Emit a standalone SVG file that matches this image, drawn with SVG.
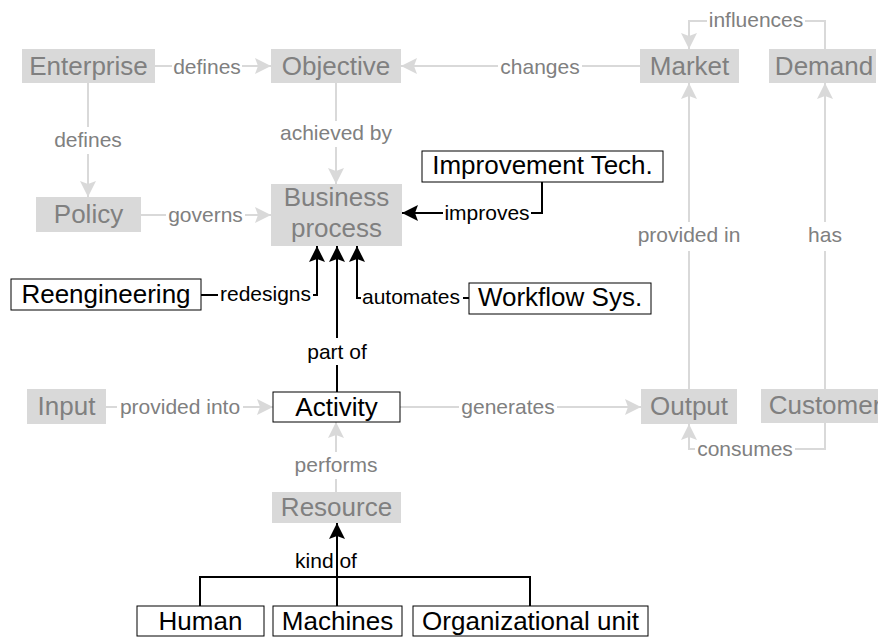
<svg xmlns="http://www.w3.org/2000/svg" width="878" height="637" viewBox="0 0 878 637">
<style>
text{font-family:"Liberation Sans",Arial,Helvetica,sans-serif}
.gn rect{fill:#d9d9d9}
.gn text{fill:#808080;font-size:26px;text-anchor:middle}
.bn rect{fill:#fff;stroke:#000;stroke-width:1}
.bn text{fill:#000;font-size:26px;text-anchor:middle}
.ge{fill:none;stroke:#d9d9d9;stroke-width:2;marker-end:url(#ga)}
.be{fill:none;stroke:#000;stroke-width:2}
.bea{marker-end:url(#ba)}
.gl{fill:#808080;font-size:21px;text-anchor:middle}
.bl{fill:#000;font-size:21px;text-anchor:middle}
</style>
<defs>
<marker id="ga" markerUnits="userSpaceOnUse" markerWidth="16" markerHeight="16" viewBox="0 0 16 16" refX="16" refY="8" orient="auto"><path d="M0,0 L16,8 L0,16 L3,8 Z" fill="#d9d9d9"/></marker>
<marker id="ba" markerUnits="userSpaceOnUse" markerWidth="16" markerHeight="16" viewBox="0 0 16 16" refX="16" refY="8" orient="auto"><path d="M0,0 L16,8 L0,16 L3,8 Z" fill="#000"/></marker>
</defs>

<g id="connectors">
<path class="ge" d="M155,66 H172 M242,66 H271"/>
<text class="gl" x="207" y="74">defines</text>
<path class="ge" d="M640,66 H582 M498,66 H401"/>
<text class="gl" x="540" y="74">changes</text>
<path class="ge" d="M88,83 V127 M88,154 V197"/>
<text class="gl" x="88" y="147">defines</text>
<path class="ge" d="M336,83 V121 M336,147 V184"/>
<text class="gl" x="336" y="140">achieved by</text>
<path class="ge" d="M141,215 H166 M245,215 H271"/>
<text class="gl" x="205.5" y="222">governs</text>
<path class="ge" d="M106,407 H117 M243,407 H273"/>
<text class="gl" x="180" y="414">provided into</text>
<path class="ge" d="M400,407 H459 M557,407 H641"/>
<text class="gl" x="508" y="414">generates</text>
<path class="ge" d="M689,389 V251 M689,222 V83"/>
<text class="gl" x="689" y="242">provided in</text>
<path class="ge" d="M825,389 V251 M825,222 V83"/>
<text class="gl" x="825" y="242">has</text>
<path class="ge" d="M825,49 V21 H805 M707,21 H689 V49"/>
<text class="gl" x="756" y="27">influences</text>
<path class="ge" d="M825,423 V449 H795 M695,449 H689 V424"/>
<text class="gl" x="745" y="456">consumes</text>
<path class="ge" d="M336,492 V479 M336,452 V422"/>
<text class="gl" x="336" y="472">performs</text>

<path class="be bea" d="M542,182 V213 H531 M443,213 H402"/>
<text class="bl" x="487" y="220">improves</text>
<path class="be bea" d="M201,295 H218 M313,295 H317 V246"/>
<text class="bl" x="265.5" y="301">redesigns</text>
<path class="be bea" d="M469,298 H463 M361,298 H357 V246"/>
<text class="bl" x="411" y="304">automates</text>
<path class="be bea" d="M337,392 V365 M337,338 V246"/>
<text class="bl" x="337" y="359">part of</text>
<path class="be" d="M200,606 V577 H530 V606"/>
<path class="be bea" d="M337,606 V523"/>
<text class="bl" x="326" y="568">kind of</text>
</g>

<g id="enterprise" class="gn"><rect x="22" y="49" width="133" height="34"/><text x="88.5" y="74.5">Enterprise</text></g>
<g id="objective" class="gn"><rect x="271" y="49" width="130" height="34"/><text x="336" y="74.5">Objective</text></g>
<g id="market" class="gn"><rect x="640" y="49" width="99" height="34"/><text x="689.5" y="74.5">Market</text></g>
<g id="demand" class="gn"><rect x="769" y="49" width="107" height="34"/><text x="824" y="74.5">Demand</text></g>
<g id="policy" class="gn"><rect x="36" y="197" width="105" height="35"/><text x="88.5" y="222.5">Policy</text></g>
<g id="business-process" class="gn"><rect x="271" y="184" width="131" height="62"/><text x="336.5" y="206">Business</text><text x="336.5" y="237">process</text></g>
<g id="input" class="gn"><rect x="27" y="389" width="79" height="35"/><text x="66.5" y="415">Input</text></g>
<g id="output" class="gn"><rect x="641" y="389" width="96" height="35"/><text x="689" y="415">Output</text></g>
<g id="customer" class="gn"><rect x="761" y="389" width="128" height="34"/><text x="825" y="414">Customer</text></g>
<g id="resource" class="gn"><rect x="272" y="492" width="129" height="31"/><text x="336.5" y="515.5">Resource</text></g>

<g id="improvement-tech" class="bn"><rect x="422" y="151" width="241" height="31"/><text x="542.5" y="174">Improvement Tech.</text></g>
<g id="reengineering" class="bn"><rect x="11" y="279" width="190" height="31"/><text x="106" y="303">Reengineering</text></g>
<g id="workflow-sys" class="bn"><rect x="469" y="283" width="182" height="31"/><text x="560" y="306">Workflow Sys.</text></g>
<g id="activity" class="bn"><rect x="273" y="392" width="127" height="30"/><text x="336.5" y="415.5">Activity</text></g>
<g id="human" class="bn"><rect x="137" y="606" width="127" height="30"/><text x="200.5" y="630">Human</text></g>
<g id="machines" class="bn"><rect x="273" y="606" width="129" height="30"/><text x="337.5" y="630">Machines</text></g>
<g id="organizational-unit" class="bn"><rect x="413" y="606" width="235" height="30"/><text x="530.5" y="630">Organizational unit</text></g>
</svg>
